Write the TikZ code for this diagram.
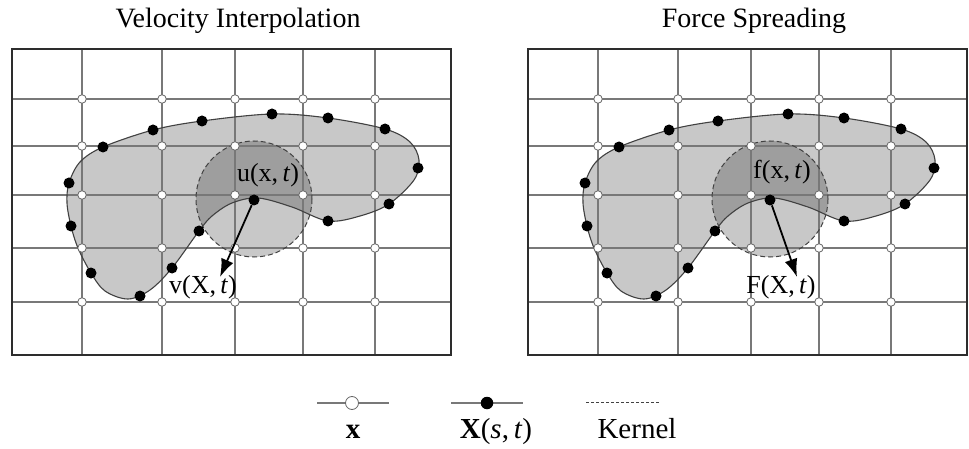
\documentclass[tikz,border=0pt]{standalone}
\usepackage{fontspec}
\setmainfont{Liberation Serif}
\usetikzlibrary{arrows.meta,positioning}
\definecolor{ibGrid}{RGB}{120,120,120}
\definecolor{ibBlob}{RGB}{200,200,200}
\definecolor{ibKern}{RGB}{158,158,158}
\definecolor{ibEdge}{RGB}{65,65,65}
\definecolor{ibFrame}{RGB}{45,45,45}

\begin{document}
\begin{tikzpicture}[x=1pt,y=-1pt,
    gridline/.style={ibGrid,line width=1.2pt},
    eulerpt/.style={circle,draw=ibEdge!80,fill=white,inner sep=0pt,minimum size=8.5pt,line width=0.8pt},
    lagpt/.style={circle,fill=black,inner sep=0pt,minimum size=11pt},
    kernline/.style={ibEdge,dash pattern=on 5pt off 3pt,line width=1pt},
    lbl/.style={font=\fontsize{26}{30}\selectfont,anchor=base,inner sep=0pt},
    bigtxt/.style={font=\fontsize{29}{33}\selectfont,anchor=base,inner sep=0pt}]

  \useasboundingbox[fill=white] (0,0) rectangle (969,449);

  % the two panels
  \foreach \dx/\ttl/\lo/\up/\tx/\lx/\ux/\uy in {
    0/{Velocity Interpolation}/v/u/220/203/268/182,
    516/{Force Spreading}/F/f/281/265/266/179}{
  \begin{scope}[xshift=\dx pt]
    \node[bigtxt,font=\fontsize{28}{32}\selectfont] (title\dx) at (238,28) {\ttl};

    \path[save path=\blobshape] plot[smooth cycle,tension=0.55] coordinates {
      (103,147) (153,130) (202,121) (272,114) (328,118) (385,129) (410,142)
      (419,160) (414,180) (389,204) (360,216) (328,221) (292,207) (258,198)
      (232,203) (212,216) (199,231) (172,268) (150,290) (128,299) (105,291)
      (91,273) (78,248) (71,226) (67,203) (69,183) (80,162)};

    % body and kernel
    \path[use path=\blobshape,fill=ibBlob];
    \fill[ibBlob] (254,199) circle (58);
    \begin{scope}
      \clip[use path=\blobshape];
      \fill[ibKern] (254,199) circle (58);
    \end{scope}

    % Eulerian grid
    \foreach \gx in {82,162,235,303,375}
      \draw[gridline] (\gx,49) -- (\gx,355);
    \foreach \gy in {99,146,195,248,302}
      \draw[gridline] (12,\gy) -- (451,\gy);
    \draw[ibFrame,line width=1.8pt] (12,49) rectangle (451,355);

    \path[use path=\blobshape,draw=ibEdge,line width=1.1pt];
    \draw[kernline] (254,199) circle (58);

    \foreach \gx in {82,162,235,303,375}
      \foreach \gy in {99,146,195,248,302}
        \node[eulerpt] (e\dx-\gx-\gy) at (\gx,\gy) {};

    % Lagrangian points
    \foreach \px/\py [count=\k] in {103/147,153/130,202/121,272/114,328/118,
        385/129,418/168,389/204,328/221,199/231,172/268,140/296,91/273,
        71/226,69/183}
      \node[lagpt] (m\dx-\k) at (\px,\py) {};
    \node[lagpt] (c\dx) at (254,200) {};

    \coordinate (tip\dx) at (\tx,277);
    \draw[-{Latex[length=18pt,width=13pt]},line width=1.8pt] (c\dx) -- (tip\dx);

    \node[lbl] (up\dx) at (\ux,\uy) {\up(x,\,\textit{t})};
    \node[lbl] (lo\dx) at (\lx,293) {\lo(X,\,\textit{t})};
  \end{scope}
  }

  % legend
  \coordinate (legEa) at (317,403);
  \coordinate (legEb) at (389,403);
  \draw[ibGrid,line width=1.5pt] (legEa) -- (legEb);
  \node[eulerpt,minimum size=13pt] (legE) at (352,403) {};
  \node[bigtxt] (legEtxt) at (353,438) {\textbf{x}};

  \coordinate (legLa) at (451,403);
  \coordinate (legLb) at (523,403);
  \draw[ibGrid,line width=1.5pt] (legLa) -- (legLb);
  \node[lagpt,minimum size=12.5pt] (legL) at (487,403) {};
  \node[bigtxt] (legLtxt) at (496,438) {\textbf{X}(\textit{s},\,\textit{t})};

  \coordinate (legKa) at (586,402);
  \coordinate (legKb) at (659,402);
  \draw[ibEdge,dash pattern=on 3pt off 2pt,line width=0.8pt] (legKa) -- (legKb);
  \node[bigtxt] (legKtxt) at (637,438) {Kernel};

\end{tikzpicture}
\end{document}
